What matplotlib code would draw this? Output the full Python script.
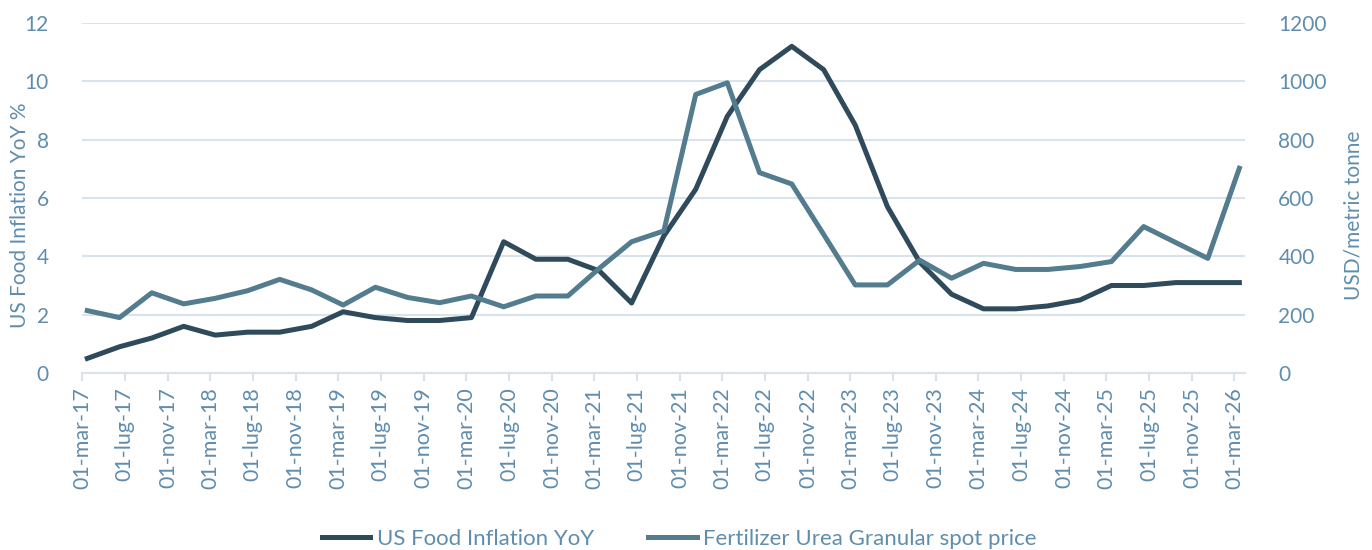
import matplotlib
matplotlib.use('Agg')
import matplotlib.pyplot as plt
import pandas as pd

# quarterly observations, mar-17 .. mar-26
dates = pd.date_range('2017-03-01', '2026-03-01', freq='3MS')

food_inflation = [0.5, 0.9, 1.2, 1.6, 1.3, 1.4, 1.4, 1.6, 2.1, 1.9, 1.8, 1.8,
                  1.9, 4.5, 3.9, 3.9, 3.5, 2.4, 4.7, 6.3, 8.8, 10.4, 11.2, 10.4,
                  8.5, 5.7, 3.8, 2.7, 2.2, 2.2, 2.3, 2.5, 3.0, 3.0, 3.1, 3.1, 3.1]

urea_price = [214, 190, 275, 237, 256, 282, 321, 285, 233, 294, 259, 241,
              264, 227, 264, 264, 359, 450, 487, 955, 995, 687, 648, 475,
              302, 302, 387, 325, 376, 355, 355, 365, 382, 502, 447, 393, 702]

month_it = {3: 'mar', 7: 'lug', 11: 'nov'}
tick_dates = pd.date_range('2017-03-01', '2026-03-01', freq='4MS')
tick_labels = ['01-%s-%s' % (month_it[d.month], d.strftime('%y')) for d in tick_dates]

dark = '#2e4a5b'
light = '#537c8e'
txt = '#5f8dae'
grid = '#d9e3ec'

plt.rcParams['font.family'] = ['Lato', 'DejaVu Sans']

fig = plt.figure(figsize=(13.72, 5.5), dpi=100)
ax = fig.add_axes([0.0598, 0.3218, 0.8476, 0.6364])
ax2 = ax.twinx()

# points sit in the middle of their month
x = dates + pd.Timedelta(days=15)

ax.plot(x, food_inflation, color=dark, lw=3.6, label='US Food Inflation YoY', zorder=3)
ax2.plot(x, urea_price, color=light, lw=3.6, label='Fertilizer Urea Granular spot price', zorder=3)

ax.set_xlim(pd.Timestamp('2017-03-01'), pd.Timestamp('2026-04-01'))
ax.set_ylim(0, 12)
ax2.set_ylim(0, 1200)
ax.set_yticks(range(0, 13, 2))
ax2.set_yticks(range(0, 1201, 200))

ax.set_xticks(tick_dates)
ax.set_xticklabels(tick_labels, rotation=90)

ax.grid(axis='y', color=grid, lw=1.5)
ax.set_axisbelow(True)
for a in (ax, ax2):
    for s in a.spines.values():
        s.set_visible(False)
ax.spines['bottom'].set_visible(True)
ax.spines['bottom'].set_color(grid)
ax.spines['bottom'].set_linewidth(1.5)

ax.tick_params(axis='y', length=0, pad=24, labelsize=15, labelcolor=txt)
ax2.tick_params(axis='y', length=0, pad=24, labelsize=15, labelcolor=txt)
ax.tick_params(axis='x', length=6, width=1.5, color=grid, pad=4, labelsize=15.5, labelcolor=txt)

ax.set_ylabel('US Food Inflation YoY %', fontsize=15, color=txt)
ax.yaxis.set_label_coords(-0.045, 0.45)
ax2.set_ylabel('USD/metric tonne', fontsize=15, color=txt)
ax2.yaxis.set_label_coords(1.085, 0.45)

h1, l1 = ax.get_legend_handles_labels()
h2, l2 = ax2.get_legend_handles_labels()
leg = fig.legend(h1 + h2, l1 + l2, loc='lower center', bbox_to_anchor=(0.495, -0.035),
                 ncol=2, frameon=False, fontsize=16, handlelength=2.2,
                 columnspacing=2.4, handletextpad=0.3)
for t in leg.get_texts():
    t.set_color(txt)

fig.savefig('out.png', dpi=100)
